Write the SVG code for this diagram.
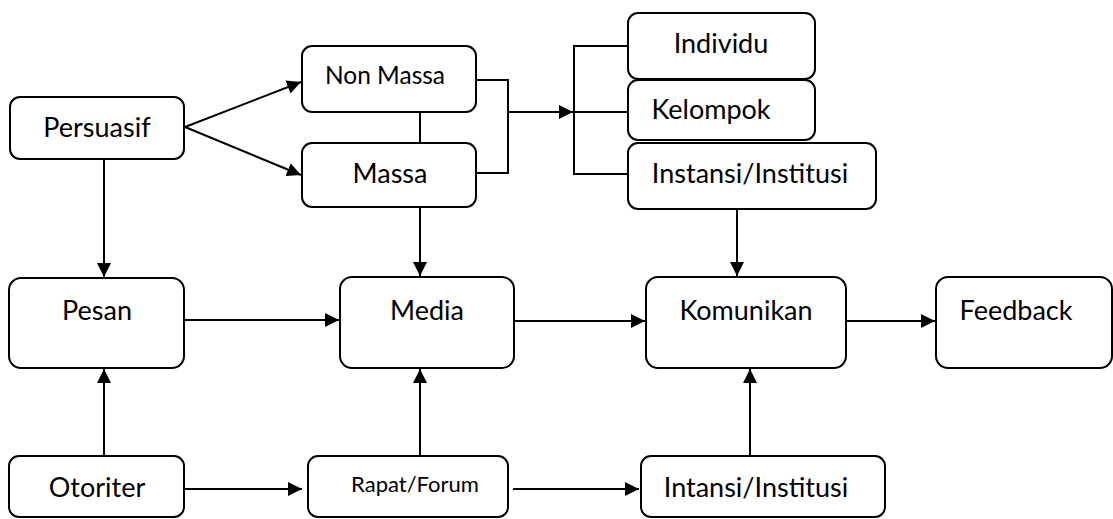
<svg xmlns="http://www.w3.org/2000/svg" width="1113" height="519" viewBox="0 0 1113 519">
<style>
.box{fill:#fff;stroke:#000;stroke-width:2}
.t{font-family:Lato,"Liberation Sans",sans-serif;font-size:27px;fill:#000;text-anchor:middle}
.s{font-size:24.5px}
.xs{font-size:22px}
.c{fill:none;stroke:#000;stroke-width:2}
</style>
<defs>
<marker id="ah" markerUnits="userSpaceOnUse" markerWidth="15" markerHeight="14" refX="14" refY="7" orient="auto">
<path d="M0,0 L14,7 L0,14 z" fill="#000"/>
</marker>
</defs>
<rect width="1113" height="519" fill="#fff"/>
<g id="connectors">
<line class="c" x1="185" y1="127" x2="301" y2="82" marker-end="url(#ah)"/>
<line class="c" x1="185" y1="127" x2="301" y2="175" marker-end="url(#ah)"/>
<line class="c" x1="104" y1="159" x2="104" y2="277" marker-end="url(#ah)"/>
<line class="c" x1="104" y1="456" x2="104" y2="369" marker-end="url(#ah)"/>
<line class="c" x1="184" y1="489" x2="302" y2="489" marker-end="url(#ah)"/>
<line class="c" x1="513" y1="489" x2="639" y2="489" marker-end="url(#ah)"/>
<line class="c" x1="420" y1="456" x2="420" y2="369" marker-end="url(#ah)"/>
<line class="c" x1="420" y1="207" x2="420" y2="276" marker-end="url(#ah)"/>
<line class="c" x1="184" y1="320" x2="339" y2="320" marker-end="url(#ah)"/>
<line class="c" x1="514" y1="321" x2="645" y2="321" marker-end="url(#ah)"/>
<line class="c" x1="846" y1="321" x2="935" y2="321" marker-end="url(#ah)"/>
<line class="c" x1="737" y1="209" x2="737" y2="276" marker-end="url(#ah)"/>
<line class="c" x1="750" y1="456" x2="750" y2="369" marker-end="url(#ah)"/>
<polyline class="c" points="476,80 508,80 508,173 476,173"/>
<line class="c" x1="508" y1="112" x2="573" y2="112" marker-end="url(#ah)"/>
<line class="c" x1="420" y1="112" x2="420" y2="143"/>
<polyline class="c" points="628,46 574,46 574,174 628,174"/>
<line class="c" x1="574" y1="112" x2="628" y2="112"/>
</g>
<g id="persuasif"><rect class="box" x="10" y="97" width="174" height="62" rx="10"/><text class="t" x="97" y="137">Persuasif</text></g>
<g id="nonmassa"><rect class="box" x="302" y="46" width="174" height="66" rx="10"/><text class="t s" x="385" y="84">Non Massa</text></g>
<g id="massa"><rect class="box" x="302" y="143" width="174" height="64" rx="10"/><text class="t" x="390" y="183">Massa</text></g>
<g id="individu"><rect class="box" x="628" y="13" width="187" height="66" rx="10"/><text class="t" x="721" y="53">Individu</text></g>
<g id="kelompok"><rect class="box" x="628" y="80" width="187" height="60" rx="10"/><text class="t" x="711" y="119">Kelompok</text></g>
<g id="instansi"><rect class="box" x="628" y="143" width="248" height="66" rx="10"/><text class="t" x="750" y="183">Instansi/Institusi</text></g>
<g id="pesan"><rect class="box" x="9" y="278" width="175" height="90" rx="12"/><text class="t" x="97" y="320">Pesan</text></g>
<g id="media"><rect class="box" x="340" y="277" width="174" height="91" rx="12"/><text class="t" x="427" y="320">Media</text></g>
<g id="komunikan"><rect class="box" x="646" y="277" width="200" height="91" rx="12"/><text class="t" x="746" y="320">Komunikan</text></g>
<g id="feedback"><rect class="box" x="936" y="277" width="176" height="91" rx="12"/><text class="t" x="1016" y="320">Feedback</text></g>
<g id="otoriter"><rect class="box" x="9" y="456" width="175" height="61" rx="10"/><text class="t" x="97" y="497">Otoriter</text></g>
<g id="rapat"><rect class="box" x="308" y="456" width="200" height="61" rx="10"/><text class="t xs" x="415" y="492">Rapat/Forum</text></g>
<g id="intansi"><rect class="box" x="641" y="456" width="244" height="61" rx="10"/><text class="t" x="756" y="497">Intansi/Institusi</text></g>
</svg>
